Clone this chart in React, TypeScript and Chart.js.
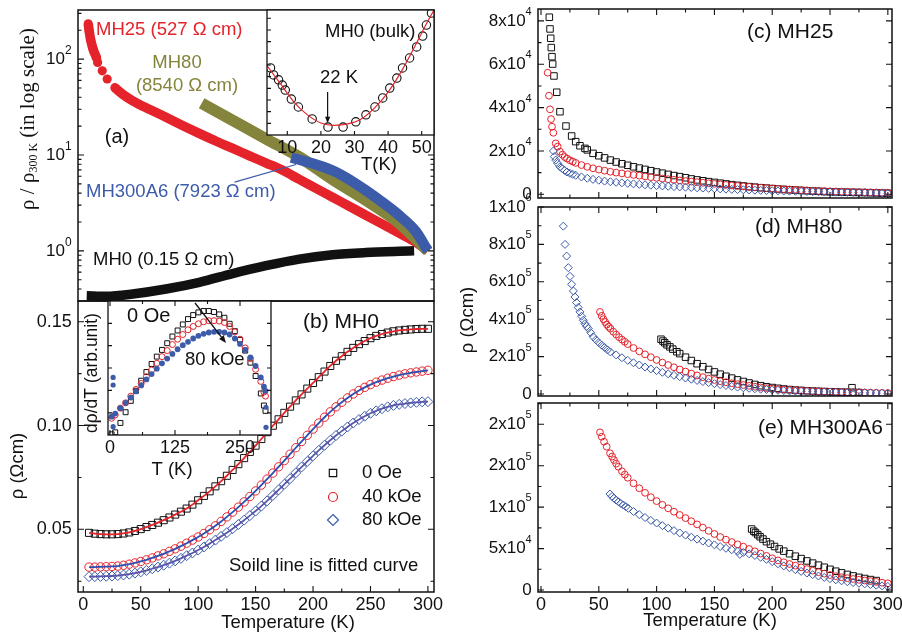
import React, { useEffect, useRef } from "react";
import { Chart, registerables } from "chart.js";

Chart.register(...registerables);

const W = 902;
const H = 635;
const SANS = '"Liberation Sans", Arial, Helvetica, sans-serif';
const SERIF = '"Liberation Serif", "Times New Roman", serif';
const INK = "#111111";
const RED = "#e4232b";
const BLUE = "#3c5ba9";
const OLIVE = "#85843c";
const FIT40 = "#2d4fb2";
const FIT80 = "#5b55aa";
const CLEAR = "rgba(0,0,0,0)";

// temperature grid of the dense sweeps (K)
const T_GRID = [5, 10, 15, 20, 25, 30, 35, 40, 45, 50, 55, 60, 65, 70, 75, 80, 85, 90, 95, 100, 105, 110, 115, 120, 125, 130, 135, 140, 145, 150, 155, 160, 165, 170, 175, 180, 185, 190, 195, 200, 205, 210, 215, 220, 225, 230, 235, 240, 245, 250, 255, 260, 265, 270, 275, 280, 285, 290, 295, 300];
const sweep = (lo: number, hi = 300) => T_GRID.filter((t) => t >= lo && t <= hi);

// ---------- (a) rho / rho(300 K), log scale ----------
const tempMH25 = [4.3, 5.2, 6.4, 8.7, 11.6, 12.5, 16.5, 20.8, 27.5, 34.7, 43.4, 57.9, 72.4, 86.8, 101.3, 115.8, 130.2, 144.7, 159.2, 173.6, 188.1, 202.6, 217, 231.5, 246, 260.4, 274.9, 289.4, 300];
const ratioMH25 = [233, 194, 159, 125, 102, 92.2, 75.5, 62, 50.3, 42.6, 36.5, 29.8, 24.6, 20.2, 16.7, 13.9, 11.7, 9.79, 8.24, 6.92, 5.56, 4.49, 3.62, 2.92, 2.35, 1.9, 1.53, 1.23, 1.0];
const tempMH80 = [103, 130.2, 159.2, 188.1, 217, 246, 275, 300];
const ratioMH80 = [34.7, 22.9, 14.7, 9.53, 5.56, 3.37, 1.94, 1.0];
const tempMH300A6 = [181, 202.6, 217, 231.5, 246, 260.4, 274.9, 289.4, 300];
const ratioMH300A6 = [9.42, 7.96, 6.9, 5.56, 4.27, 3.21, 2.35, 1.6, 1.0];
const tempMH0 = [3, 20, 43, 72, 101, 130, 159, 188, 217, 246, 275, 288];
const ratioMH0 = [0.34, 0.336, 0.355, 0.4, 0.47, 0.58, 0.7, 0.82, 0.91, 0.96, 0.99, 1.0];
const logMajor = [1, 10, 100];
const logMajorText = ["10^0", "10^1", "10^2"];
const logMinor = [0.4, 0.5, 0.6, 0.7, 0.8, 0.9, 2, 3, 4, 5, 6, 7, 8, 9, 20, 30, 40, 50, 60, 70, 80, 90, 200, 300];
const pointerMH300A6 = [131.7, 5.21, 185.2, 7.96];

// inset of (a): bulk MH0 around the resistivity minimum (mOhm cm)
const tempBulk = [5.0, 5.9, 7.4, 8.5, 9.4, 11.2, 13.3, 17.4, 22.1, 26.6, 30.4, 33.4, 36.1, 38.4, 40.5, 42.6, 44.3, 46.4, 48.5, 50.3, 51.4, 52.9];
const rhoBulk = [49.9, 49.66, 49.49, 49.31, 49.14, 48.83, 48.56, 48.15, 47.87, 47.87, 48.05, 48.29, 48.56, 48.87, 49.21, 49.55, 49.9, 50.24, 50.62, 50.99, 51.37, 51.78];
const tempBulkFit = [4, 8, 12, 16, 20, 24, 28, 32, 36, 40, 44, 48, 52, 54];
const rhoBulkFit = [49.97, 49.35, 48.73, 48.29, 48.01, 47.93, 47.98, 48.15, 48.53, 49.07, 49.79, 50.65, 51.54, 51.95];
const bulkMinArrow = [22, 49.07, 22, 48.0];
const insetTempTicks = [10, 20, 30, 40, 50];
const insetRhoTicks = [48.0, 48.4, 48.8, 49.2, 49.6, 50.0, 50.4, 50.8, 51.2, 51.6];

// ---------- (b) MH0 in field (Ohm cm) ----------
const rho0Oe = [0.0483, 0.0479, 0.0477, 0.0476, 0.0476, 0.0477, 0.048, 0.0485, 0.0492, 0.0501, 0.0511, 0.0521, 0.0532, 0.0544, 0.0557, 0.0571, 0.0585, 0.06, 0.0619, 0.064, 0.0661, 0.0683, 0.0707, 0.0732, 0.0758, 0.0786, 0.0814, 0.0843, 0.0873, 0.0903, 0.0935, 0.0968, 0.0999, 0.103, 0.1061, 0.1091, 0.1121, 0.115, 0.1178, 0.1205, 0.1233, 0.126, 0.1287, 0.1312, 0.1334, 0.1355, 0.1374, 0.1392, 0.1407, 0.1421, 0.1432, 0.1441, 0.1448, 0.1454, 0.1458, 0.1461, 0.1463, 0.1465, 0.1466, 0.1466];
const rho40kOe = [0.0318, 0.0318, 0.0319, 0.032, 0.0321, 0.0323, 0.0327, 0.0332, 0.0338, 0.0345, 0.0353, 0.0362, 0.0372, 0.0382, 0.0394, 0.0406, 0.0419, 0.0433, 0.0448, 0.0463, 0.048, 0.0498, 0.0517, 0.0538, 0.056, 0.0583, 0.0607, 0.0632, 0.0658, 0.0685, 0.0713, 0.0742, 0.0771, 0.0801, 0.0831, 0.0862, 0.0893, 0.0923, 0.0953, 0.0983, 0.1012, 0.104, 0.1066, 0.109, 0.1112, 0.1133, 0.1152, 0.1169, 0.1184, 0.1197, 0.1209, 0.1219, 0.1228, 0.1236, 0.1243, 0.1249, 0.1254, 0.1258, 0.1262, 0.1266];
const rho80kOe = [0.0272, 0.0272, 0.0273, 0.0274, 0.0275, 0.0277, 0.028, 0.0284, 0.0289, 0.0295, 0.0302, 0.031, 0.0318, 0.0327, 0.0337, 0.0348, 0.036, 0.0373, 0.0386, 0.04, 0.0415, 0.0431, 0.0448, 0.0466, 0.0484, 0.0503, 0.0523, 0.0544, 0.0566, 0.0588, 0.0612, 0.0637, 0.0663, 0.069, 0.0717, 0.0744, 0.0772, 0.08, 0.0827, 0.0854, 0.088, 0.0905, 0.0929, 0.0952, 0.0973, 0.0993, 0.1012, 0.1029, 0.1045, 0.1059, 0.1071, 0.1081, 0.109, 0.1097, 0.1102, 0.1106, 0.1109, 0.1112, 0.1114, 0.1115];
const tempTicks = [0, 50, 100, 150, 200, 250, 300];
const tempMinor = [25, 75, 125, 175, 225, 275];
const rhoTicksB = [0.05, 0.1, 0.15];
const rhoTextB = ["0.05", "0.10", "0.15"];
const rhoMinorB = [0.025, 0.075, 0.125];

// inset of (b): d rho / dT (arb. unit)
const tempDeriv = [3, 10, 20, 30, 40, 50, 60, 70, 80, 90, 100, 110, 120, 130, 140, 150, 160, 170, 180, 190, 200, 210, 220, 230, 240, 250, 260, 270, 280, 290, 296, 299];
const deriv0Oe = [0.5, 2, 9, 17, 25.5, 33, 40.5, 47, 53, 58.5, 63.5, 68.5, 73.5, 78, 82.5, 86.5, 89.5, 91.5, 92.5, 92.5, 91.8, 90, 87.5, 83, 77.5, 71, 63, 54, 44, 31, 22, 18];
const deriv40kOe = [12.5, 15, 20, 24, 29, 34, 38.5, 43.5, 48.5, 53.5, 58.5, 63, 67.5, 71.5, 75, 78.5, 81, 83, 84.5, 85.3, 85.3, 85, 84, 81, 77, 71.5, 65, 57, 49, 40, 32, 29];
const deriv80kOe = [13.7, 16, 20, 24, 28, 32.5, 37, 41.5, 45.5, 49.5, 53.5, 57, 60.5, 64, 67, 69.5, 72, 74, 75.5, 76.5, 77, 77, 76.5, 75, 72, 68, 63.5, 58, 51.5, 43, 36, 33];
const tempDerivStray = [6, 6, 6, 300, 300];
const deriv80kOeStray = [43, 37.3, 6.2, 20.7, 5.7];
const derivTempTicks = [0, 125, 250];
const derivTempMinor = [62.5, 187.5];
const derivTicks = [16.5, 33.3, 50, 66.7, 83.3];
const fieldArrow = [163.5, 98.5, 223, 68.7];

// ---------- (c) MH25 ----------
const tempC0 = [7.2, 7.8, 8.4, 8.9, 9.5, 10.1, 11.2, 13.6, 16.4, 21.6, 26.5, 30, 33.7, 38, ...sweep(40)];
const rhoC0 = [81700, 76300, 72000, 67700, 63500, 60100, 54600, 47100, 38100, 31500, 26900, 24300, 22400, 21200, 20500, 18900, 17800, 16800, 15800, 14900, 14100, 13400, 12700, 12100, 11500, 10900, 10300, 9750, 9200, 8650, 8150, 7650, 7100, 6650, 6250, 5850, 5500, 5150, 4800, 4450, 4150, 3850, 3550, 3300, 3050, 2850, 2650, 2450, 2250, 2100, 1950, 1800, 1650, 1500, 1380, 1260, 1150, 1080, 1000, 950, 900, 850, 780, 700, 620, 540, 460];
const tempC40 = [5.8, 6.9, 7.8, 8.7, 9.5, 10.7, 12.7, 14.4, 16.4, 18.5, 20.5, 22.5, 25, 27.5, 30, 35, ...sweep(40)];
const rhoC40 = [56100, 45500, 39200, 34700, 31200, 28400, 23500, 22000, 19700, 18300, 17200, 16500, 15700, 15100, 14500, 13500, 12700, 12000, 11400, 10900, 10400, 10000, 9650, 9300, 8950, 8600, 8250, 7900, 7580, 7270, 6970, 6680, 6400, 6120, 5860, 5600, 5340, 5080, 4830, 4580, 4340, 4110, 3880, 3660, 3450, 3250, 3060, 2880, 2700, 2530, 2370, 2220, 2080, 1950, 1820, 1700, 1590, 1490, 1400, 1320, 1240, 1170, 1100, 1040, 980, 920, 860, 800, 740];
const tempC80 = [10.7, 11.5, 12.7, 14.4, 16.4, 18.5, 20.5, 22.5, 25, 27.5, 30, 35, ...sweep(40)];
const rhoC80 = [20000, 17400, 15800, 14300, 12700, 11800, 11000, 10300, 9700, 9200, 8800, 8000, 7400, 6900, 6500, 6100, 5800, 5550, 5300, 5050, 4820, 4600, 4400, 4210, 4030, 3860, 3700, 3550, 3410, 3280, 3150, 3020, 2890, 2760, 2630, 2510, 2400, 2290, 2190, 2090, 2000, 1910, 1830, 1750, 1670, 1600, 1530, 1460, 1400, 1340, 1280, 1220, 1160, 1100, 1040, 990, 940, 890, 840, 790, 720, 650, 580, 520, 460];
const rhoTicksC = [0, 20000, 40000, 60000, 80000];
const rhoTextC = ["0", "2x10^4", "4x10^4", "6x10^4", "8x10^4"];
const rhoMinorC = [10000, 30000, 50000, 70000];

// ---------- (d) MH80 ----------
const tempD80 = [19.3, 20.8, 22.2, 23.6, 25.1, 26.5, 28, 29.4, 30.8, 32.2, 33.7, 35.1, 36.6, 38, 39.5, 40.9, 43, 45.2, 47.5, 50, 52.5, 55, 57.5, ...sweep(60)];
const rhoD80 = [897600, 800000, 737600, 675600, 629300, 586600, 551000, 519000, 489000, 463000, 439000, 416000, 394600, 376000, 362000, 350000, 328000, 305800, 290000, 275000, 261000, 249000, 236000, 225000, 209000, 194000, 180000, 167000, 155000, 144000, 134000, 125000, 116000, 108000, 100000, 92500, 85500, 79000, 72500, 66500, 61000, 55500, 50500, 45500, 41000, 37000, 33500, 30500, 28000, 25800, 24000, 22000, 20000, 18200, 16800, 15500, 14400, 13300, 12400, 11600, 10900, 10300, 9700, 9100, 8500, 7900, 7300, 6500, 5700, 4900, 4200, 3600];
const tempD40 = [51, 52.5, 54, 55.5, 57, 58.5, 60, 62.5, 65, 67.5, 70, 72.5, 75, ...sweep(80)];
const rhoD40 = [439000, 418000, 400000, 385000, 371000, 360000, 350000, 333000, 318000, 304000, 291000, 279000, 267000, 246000, 228000, 212000, 197000, 182000, 168000, 155000, 143000, 131000, 120000, 109000, 99000, 90000, 82000, 75000, 68500, 63000, 57500, 52500, 48000, 43500, 39000, 35000, 31500, 28500, 26000, 23800, 22000, 20500, 19000, 17500, 16000, 14500, 13000, 12000, 11200, 10500, 9900, 9400, 8900, 8200, 7400, 6600, 5900, 5300];
const tempD0 = [103.8, 105.5, 107, 109, 111.5, 114, 117.5, ...sweep(120, 275), 269];
const rhoD0 = [293000, 283000, 274000, 263000, 252000, 240000, 226000, 216000, 197000, 179000, 162000, 146000, 131000, 118000, 106000, 95000, 85000, 75500, 67000, 59000, 51000, 44500, 39000, 34500, 30500, 26800, 23800, 21200, 19200, 17400, 15900, 14500, 13300, 12200, 11200, 10200, 9300, 8500, 7800, 33600];
const rhoTicksD = [0, 200000, 400000, 600000, 800000, 1000000];
const rhoTextD = ["0", "2x10^5", "4x10^5", "6x10^5", "8x10^5", "1x10^6"];
const rhoMinorD = [100000, 300000, 500000, 700000, 900000];

// ---------- (e) MH300A6 ----------
const tempE40 = [51, 52.5, 54.5, 56.8, 59.7, 61.5, 63.1, 65, 66.9, 70, 72.5, 75, ...sweep(80)];
const rhoE40 = [190300, 185000, 179000, 173000, 165000, 161000, 156900, 152500, 148800, 143300, 139300, 135500, 128800, 122800, 117300, 112000, 107300, 102800, 98600, 94500, 90600, 86800, 83000, 79200, 75300, 71400, 67600, 64000, 60700, 57900, 55100, 52300, 49500, 46700, 44000, 41200, 38300, 35700, 33500, 31400, 29400, 27300, 25300, 23400, 21500, 19700, 18100, 16700, 15400, 14300, 13300, 12300, 11500, 10700, 9800, 8900, 8100];
const tempE80 = [59.7, 61.5, 63.1, 65, 67, 69, 71.2, 73.5, 75.5, ...sweep(80), 172];
const rhoE80 = [115900, 113000, 110700, 108500, 106500, 104500, 102600, 100500, 98600, 94800, 91000, 87500, 84000, 80800, 77700, 74600, 71700, 68900, 66300, 63800, 61400, 59000, 56700, 54500, 52400, 50400, 48600, 46900, 45300, 43600, 41700, 39500, 37000, 34300, 31600, 29100, 26800, 24600, 22500, 20500, 18600, 16900, 15200, 13700, 12300, 11100, 10000, 9000, 8200, 7400, 6600, 5800, 5000, 4300, 43100];
const tempE0 = [182.2, 184, 185.5, 187.5, 189.5, 192, 195, 198.5, 202, 206, 210, ...sweep(215, 290)];
const rhoE0 = [73600, 71000, 69300, 66800, 64300, 61500, 58300, 55300, 52500, 49600, 46900, 43800, 40800, 37900, 35100, 32500, 30000, 27500, 25000, 22700, 20700, 18800, 17000, 15300, 13900, 12600, 11400];
const rhoTicksE = [0, 50000, 100000, 150000, 200000];
const rhoTextE = ["0", "5x10^4", "1x10^5", "2x10^5", "2x10^5"];
const rhoMinorE = [25000, 75000, 125000, 175000, 225000];

// ---------- drawing helpers ----------
type Part = { t: string; s?: number; dy?: number; f?: string };
type TextItem = { parts: Part[]; x: number; y: number; size?: number; family?: string; color?: string; align?: "left" | "center" | "right"; rot?: number };
type TickSet = { axis: "x" | "y"; values: number[]; len: number; sides: string };
type TickText = { axis: "x" | "y"; values: number[]; texts: string[]; gap: number; size: number; supSize?: number; supDy?: number };
type Arrow = { coords: number[]; color: string; width: number; head: number };
type Key = { x: number; y: number; shape: "square" | "circle" | "diamond"; color: string; r: number };
type Deco = { fill?: boolean; frame?: number; ticks: TickSet[]; tickTexts: TickText[]; texts: TextItem[]; arrows?: Arrow[]; keys?: Key[] };

const label = (t: string, x: number, y: number, o: Partial<TextItem> = {}): TextItem => ({ parts: [{ t }], x, y, align: "left", ...o });

function drawRich(ctx: CanvasRenderingContext2D, item: TextItem) {
  const fam = item.family ?? SANS;
  const base = item.size ?? 18.5;
  const fontOf = (p: Part) => `${p.s ?? base}px ${p.f ?? fam}`;
  let w = 0;
  for (const p of item.parts) {
    ctx.font = fontOf(p);
    w += ctx.measureText(p.t).width;
  }
  ctx.save();
  ctx.translate(item.x, item.y);
  if (item.rot) ctx.rotate(item.rot);
  ctx.fillStyle = item.color ?? INK;
  ctx.textBaseline = "middle";
  ctx.textAlign = "left";
  let cx = item.align === "left" ? 0 : item.align === "right" ? -w : -w / 2;
  for (const p of item.parts) {
    ctx.font = fontOf(p);
    ctx.fillText(p.t, cx, p.dy ?? 0);
    cx += ctx.measureText(p.t).width;
  }
  ctx.restore();
}

function splitPower(text: string, size: number, supSize: number, supDy: number): Part[] {
  const [a, b] = text.split("^");
  return b === undefined ? [{ t: a, s: size }] : [{ t: a, s: size }, { t: b, s: supSize, dy: supDy }];
}

function decoPlugin(d: Deco) {
  return {
    id: "paperDeco",
    beforeDraw(chart: any) {
      if (!d.fill) return;
      const { ctx, chartArea: a } = chart;
      ctx.save();
      ctx.fillStyle = "#ffffff";
      ctx.fillRect(a.left, a.top, a.right - a.left, a.bottom - a.top);
      ctx.restore();
    },
    afterDatasetsDraw(chart: any) {
      const { ctx, chartArea: a, scales } = chart;
      ctx.save();
      ctx.strokeStyle = INK;
      ctx.lineWidth = 1.1;
      for (const tk of d.ticks) {
        const sc = scales[tk.axis];
        ctx.beginPath();
        for (const v of tk.values) {
          const p = sc.getPixelForValue(v);
          if (tk.axis === "x") {
            if (p < a.left - 0.5 || p > a.right + 0.5) continue;
            if (tk.sides.includes("b")) { ctx.moveTo(p, a.bottom); ctx.lineTo(p, a.bottom - tk.len); }
            if (tk.sides.includes("t")) { ctx.moveTo(p, a.top); ctx.lineTo(p, a.top + tk.len); }
          } else {
            if (p < a.top - 0.5 || p > a.bottom + 0.5) continue;
            if (tk.sides.includes("l")) { ctx.moveTo(a.left, p); ctx.lineTo(a.left + tk.len, p); }
            if (tk.sides.includes("r")) { ctx.moveTo(a.right, p); ctx.lineTo(a.right - tk.len, p); }
          }
        }
        ctx.stroke();
      }
      ctx.lineWidth = d.frame ?? 1.5;
      ctx.strokeRect(a.left, a.top, a.right - a.left, a.bottom - a.top);

      for (const ar of d.arrows ?? []) {
        const x1 = scales.x.getPixelForValue(ar.coords[0]);
        const y1 = scales.y.getPixelForValue(ar.coords[1]);
        const x2 = scales.x.getPixelForValue(ar.coords[2]);
        const y2 = scales.y.getPixelForValue(ar.coords[3]);
        ctx.strokeStyle = ar.color;
        ctx.fillStyle = ar.color;
        ctx.lineWidth = ar.width;
        const ang = Math.atan2(y2 - y1, x2 - x1);
        const back = ar.head ? ar.head * 0.8 : 0;
        ctx.beginPath();
        ctx.moveTo(x1, y1);
        ctx.lineTo(x2 - back * Math.cos(ang), y2 - back * Math.sin(ang));
        ctx.stroke();
        if (ar.head) {
          ctx.beginPath();
          ctx.moveTo(x2, y2);
          ctx.lineTo(x2 - ar.head * Math.cos(ang - 0.38), y2 - ar.head * Math.sin(ang - 0.38));
          ctx.lineTo(x2 - ar.head * Math.cos(ang + 0.38), y2 - ar.head * Math.sin(ang + 0.38));
          ctx.closePath();
          ctx.fill();
        }
      }

      for (const k of d.keys ?? []) {
        ctx.strokeStyle = k.color;
        ctx.lineWidth = 1.2;
        ctx.beginPath();
        if (k.shape === "square") ctx.rect(k.x - k.r, k.y - k.r, 2 * k.r, 2 * k.r);
        else if (k.shape === "circle") ctx.arc(k.x, k.y, k.r, 0, Math.PI * 2);
        else {
          ctx.moveTo(k.x, k.y - k.r);
          ctx.lineTo(k.x + k.r, k.y);
          ctx.lineTo(k.x, k.y + k.r);
          ctx.lineTo(k.x - k.r, k.y);
          ctx.closePath();
        }
        ctx.stroke();
      }

      for (const tt of d.tickTexts) {
        const sc = scales[tt.axis];
        tt.values.forEach((v, i) => {
          const p = sc.getPixelForValue(v);
          const parts = splitPower(tt.texts[i], tt.size, tt.supSize ?? 11, tt.supDy ?? -8);
          if (tt.axis === "x") drawRich(ctx, { parts, x: p, y: a.bottom + tt.gap, align: "center" });
          else drawRich(ctx, { parts, x: a.left - tt.gap, y: p, align: "right" });
        });
      }
      for (const t of d.texts) drawRich(ctx, t);
      ctx.restore();
    },
  };
}

const pts = (xs: number[], ys: number[]) => xs.map((x, i) => ({ x, y: ys[i] }));

function hollow(data: any[], style: string, color: string, r: number, width = 1) {
  return { data, showLine: false, pointStyle: style, pointRadius: r, pointBorderColor: color, pointBackgroundColor: CLEAR, pointBorderWidth: width };
}
function filled(data: any[], style: string, color: string, r: number) {
  return { data, showLine: false, pointStyle: style, pointRadius: r, pointBorderColor: color, pointBackgroundColor: color, pointBorderWidth: 0 };
}
function curve(data: any[], color: string, width: number, extra: any = {}) {
  return { data, showLine: true, borderColor: color, borderWidth: width, pointRadius: 0, cubicInterpolationMode: "monotone", borderCapStyle: "butt", borderJoinStyle: "round", ...extra };
}

type Area = { l: number; t: number; r: number; b: number };
type Range = { min: number; max: number; log?: boolean };

// layers are listed from bottom to top
function config(area: Area, xr: Range, yr: Range, layers: any[], deco: Deco) {
  return {
    type: "scatter",
    data: { datasets: layers.slice().reverse() },
    options: {
      responsive: false,
      animation: false,
      devicePixelRatio: 1,
      events: [],
      layout: { padding: { left: area.l, top: area.t, right: W - area.r, bottom: H - area.b } },
      plugins: { legend: { display: false }, tooltip: { enabled: false } },
      scales: {
        x: { type: "linear", min: xr.min, max: xr.max, display: false },
        y: { type: yr.log ? "logarithmic" : "linear", min: yr.min, max: yr.max, display: false },
      },
    },
    plugins: [decoPlugin(deco)],
  };
}

const LEFT_X: Range = { min: -4.6, max: 305.3 };
const RIGHT_X: Range = { min: -2.6, max: 303.6 };

const rightTicks = (major: number[], minor: number[]): TickSet[] => [
  { axis: "x", values: tempTicks, len: 6, sides: "bt" },
  { axis: "x", values: tempMinor, len: 3.5, sides: "bt" },
  { axis: "y", values: major, len: 6, sides: "lr" },
  { axis: "y", values: minor, len: 3.5, sides: "lr" },
];

function panelA() {
  const hideGap = (c: any) => (c.p0.parsed.x >= 11.6 && c.p1.parsed.x <= 27.5 ? CLEAR : undefined);
  return config(
    { l: 78, t: 10, r: 434, b: 301 },
    LEFT_X,
    { min: 0.307, max: 325, log: true },
    [
      curve(pts(tempMH0, ratioMH0), INK, 9.5),
      curve(pts(tempMH25, ratioMH25), RED, 9.5, {
        segment: { borderColor: hideGap },
        pointRadius: (c: any) => (c.raw && c.raw.x < 30 ? 4.6 : 0),
        pointBackgroundColor: RED,
        pointBorderWidth: 0,
      }),
      curve(pts(tempMH80, ratioMH80), OLIVE, 11.5),
      curve(pts(tempMH300A6, ratioMH300A6), BLUE, 10.5),
    ],
    {
      ticks: [
        { axis: "y", values: logMajor, len: 6, sides: "lr" },
        { axis: "y", values: logMinor, len: 3.5, sides: "lr" },
      ],
      tickTexts: [{ axis: "y", values: logMajor, texts: logMajorText, gap: 6.3, size: 17, supSize: 12, supDy: -8 }],
      arrows: [{ coords: pointerMH300A6, color: BLUE, width: 1.2, head: 0 }],
      texts: [
        label("MH25 (527 Ω cm)", 96, 30, { color: RED }),
        label("MH80", 177, 63, { color: OLIVE, align: "center" }),
        label("(8540 Ω cm)", 187, 86, { color: OLIVE, align: "center" }),
        label("(a)", 117, 137, { align: "center", size: 20 }),
        label("MH300A6 (7923 Ω cm)", 86, 192, { color: BLUE }),
        label("MH0 (0.15 Ω cm)", 93, 260),
        {
          parts: [
            { t: "ρ / ρ", s: 21 },
            { t: "300 K", s: 12, dy: 6 },
            { t: " (in log scale)", s: 21 },
          ],
          x: 28,
          y: 119,
          family: SERIF,
          align: "center",
          rot: -Math.PI / 2,
        },
      ],
    }
  );
}

function panelAInset() {
  return config(
    { l: 267, t: 10, r: 434, b: 135 },
    { min: 3.96, max: 53.66 },
    { min: 47.6, max: 51.885 },
    [hollow(pts(tempBulk, rhoBulk), "circle", INK, 4.2, 1.1), curve(pts(tempBulkFit, rhoBulkFit), RED, 1.2)],
    {
      fill: true,
      frame: 1.3,
      ticks: [
        { axis: "y", values: insetRhoTicks, len: 4, sides: "l" },
        { axis: "x", values: insetTempTicks, len: 4, sides: "b" },
      ],
      tickTexts: [{ axis: "x", values: insetTempTicks, texts: insetTempTicks.map(String), gap: 13, size: 18 }],
      arrows: [{ coords: bulkMinArrow, color: INK, width: 1.2, head: 7 }],
      texts: [label("MH0 (bulk)", 325, 32), label("22 K", 339, 78, { align: "center" }), label("T(K)", 379, 165, { align: "center" })],
    }
  );
}

function panelB() {
  return config(
    { l: 78, t: 301, r: 434, b: 592 },
    LEFT_X,
    { min: 0.0198, max: 0.16 },
    [
      hollow(pts(T_GRID, rho80kOe), "rectRot", BLUE, 5),
      hollow(pts(T_GRID, rho40kOe), "circle", RED, 4.2),
      hollow(pts(T_GRID, rho0Oe), "rect", INK, 5),
      curve(pts(T_GRID, rho80kOe), FIT80, 1.8),
      curve(pts(T_GRID, rho40kOe), FIT40, 1.8),
      curve(pts(T_GRID, rho0Oe), RED, 1.8),
    ],
    {
      ticks: [
        { axis: "x", values: tempTicks, len: 6, sides: "b" },
        { axis: "x", values: tempMinor, len: 3.5, sides: "b" },
        { axis: "y", values: rhoTicksB, len: 6, sides: "lr" },
        { axis: "y", values: rhoMinorB, len: 3.5, sides: "lr" },
      ],
      tickTexts: [
        { axis: "x", values: tempTicks, texts: tempTicks.map(String), gap: 13, size: 18 },
        { axis: "y", values: rhoTicksB, texts: rhoTextB, gap: 6.3, size: 18 },
      ],
      keys: [
        { x: 333, y: 473, shape: "square", color: INK, r: 3.7 },
        { x: 333, y: 497, shape: "circle", color: RED, r: 4.5 },
        { x: 333, y: 520, shape: "diamond", color: BLUE, r: 5.5 },
      ],
      texts: [
        label("(b) MH0", 303, 322, { size: 21 }),
        label("0 Oe", 362, 473),
        label("40 kOe", 362, 497),
        label("80 kOe", 362, 520),
        label("Soild line is fitted curve", 229, 566),
        label("Temperature (K)", 288, 623, { align: "center" }),
        label("ρ (Ωcm)", 18, 466, { align: "center", rot: -Math.PI / 2 }),
      ],
    }
  );
}

function panelBInset() {
  return config(
    { l: 108, t: 301, r: 271, b: 435 },
    { min: -3.85, max: 309.6 },
    { min: 0, max: 100 },
    [
      hollow(pts(tempDeriv, deriv0Oe), "rect", INK, 3.5, 1),
      hollow(pts(tempDeriv, deriv40kOe), "circle", RED, 3, 1),
      filled(pts(tempDeriv, deriv80kOe), "circle", BLUE, 2.9),
      filled(pts(tempDerivStray, deriv80kOeStray), "circle", BLUE, 2.6),
    ],
    {
      fill: true,
      frame: 1.3,
      ticks: [
        { axis: "x", values: derivTempTicks, len: 5, sides: "bt" },
        { axis: "x", values: derivTempMinor, len: 3, sides: "bt" },
        { axis: "y", values: derivTicks, len: 4, sides: "lr" },
      ],
      tickTexts: [{ axis: "x", values: derivTempTicks, texts: derivTempTicks.map(String), gap: 13, size: 18 }],
      arrows: [{ coords: fieldArrow, color: INK, width: 1.3, head: 8 }],
      texts: [
        label("0 Oe", 127, 316, { size: 20 }),
        label("80 kOe", 185, 360),
        label("T (K)", 172, 470, { align: "center" }),
        label("dρ/dT (arb.unit)", 92, 373, { align: "center", size: 17.5, rot: -Math.PI / 2 }),
      ],
    }
  );
}

function panelC() {
  return config(
    { l: 538, t: 9, r: 892, b: 198 },
    RIGHT_X,
    { min: -1700, max: 85500 },
    [hollow(pts(tempC0, rhoC0), "rect", INK, 4.6), hollow(pts(tempC40, rhoC40), "circle", RED, 3.4), hollow(pts(tempC80, rhoC80), "rectRot", BLUE, 4)],
    {
      ticks: rightTicks(rhoTicksC, rhoMinorC),
      tickTexts: [{ axis: "y", values: rhoTicksC, texts: rhoTextC, gap: 6.3, size: 17, supSize: 11, supDy: -9 }],
      texts: [label("(c) MH25", 747, 32, { size: 21 })],
    }
  );
}

function panelD() {
  return config(
    { l: 538, t: 207, r: 892, b: 396 },
    RIGHT_X,
    { min: -10700, max: 1000000 },
    [hollow(pts(tempD0, rhoD0), "rect", INK, 4.6), hollow(pts(tempD40, rhoD40), "circle", RED, 3.4), hollow(pts(tempD80, rhoD80), "rectRot", BLUE, 4)],
    {
      ticks: rightTicks(rhoTicksD, rhoMinorD),
      tickTexts: [{ axis: "y", values: rhoTicksD, texts: rhoTextD, gap: 6.3, size: 17, supSize: 11, supDy: -9 }],
      texts: [label("(d) MH80", 755, 227, { size: 21 }), label("ρ (Ωcm)", 468, 320, { align: "center", rot: -Math.PI / 2 })],
    }
  );
}

function panelE() {
  return config(
    { l: 538, t: 403, r: 892, b: 592 },
    RIGHT_X,
    { min: -2400, max: 225700 },
    [hollow(pts(tempE0, rhoE0), "rect", INK, 4.6), hollow(pts(tempE40, rhoE40), "circle", RED, 3.4), hollow(pts(tempE80, rhoE80), "rectRot", BLUE, 4)],
    {
      ticks: rightTicks(rhoTicksE, rhoMinorE),
      tickTexts: [
        { axis: "y", values: rhoTicksE, texts: rhoTextE, gap: 6.3, size: 17, supSize: 11, supDy: -9 },
        { axis: "x", values: tempTicks, texts: tempTicks.map(String), gap: 13, size: 18 },
      ],
      texts: [label("(e) MH300A6", 758, 428, { size: 21 }), label("Temperature (K)", 710, 621, { align: "center" })],
    }
  );
}

function Layer({ make }: { make: () => any }) {
  const ref = useRef<HTMLCanvasElement>(null);
  useEffect(() => {
    const chart = new Chart(ref.current as HTMLCanvasElement, make());
    return () => chart.destroy();
  }, [make]);
  return <canvas ref={ref} width={W} height={H} style={{ position: "absolute", left: 0, top: 0, width: W, height: H }} />;
}

const LAYERS = [panelA, panelB, panelAInset, panelBInset, panelC, panelD, panelE];

export default function App() {
  return (
    <div style={{ position: "fixed", left: 0, top: 0, width: W, height: H, background: "#ffffff", overflow: "hidden" }}>
      {LAYERS.map((make, i) => (
        <Layer key={i} make={make} />
      ))}
    </div>
  );
}
